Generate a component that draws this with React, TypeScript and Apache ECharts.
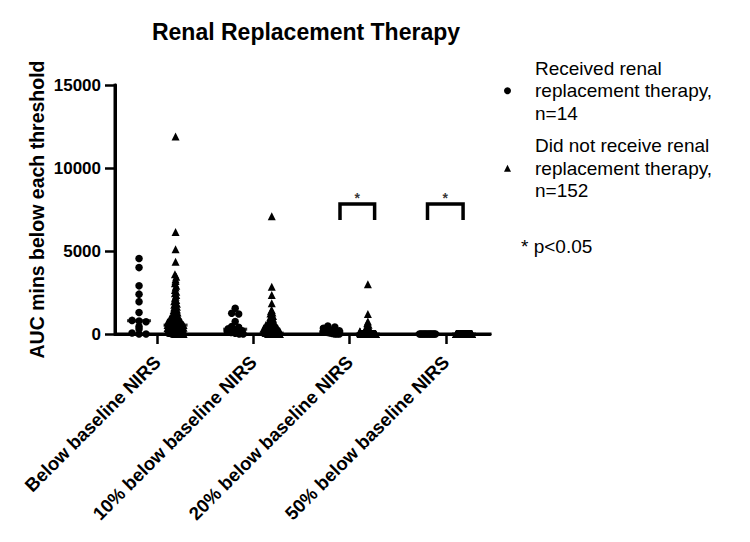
import React, { useEffect, useRef } from "react";
import * as echarts from "echarts";

const FONT = "'Liberation Sans', Arial, Helvetica, sans-serif";

const categories = [
  "Below baseline NIRS",
  "10% below baseline NIRS",
  "20% below baseline NIRS",
  "50% below baseline NIRS",
];
const yTicks = [0, 5000, 10000, 15000];

const seriesNames = [
  "Received renal replacement therapy, n=14",
  "Did not receive renal replacement therapy, n=152",
];
const legendLines = [
  ["Received renal", "replacement therapy,", "n=14"],
  ["Did not receive renal", "replacement therapy,", "n=152"],
];
const significanceNote = "* p<0.05";
const significantCategories = [2, 3];

// ---- Received RRT (n=14) per threshold ----
const rrtBelowBaseline = [4550, 4000, 2900, 2400, 1950, 1300, 820, 780, 740, 450, 300, 60, 0, 0];
const rrt10 = [1550, 1250, 1200, 750, 450, 400, 320, 260, 200, 150, 90, 40, 0, 0];
const rrt20 = [480, 420, 350, 300, 250, 200, 150, 120, 90, 60, 30, 0, 0, 0];
const rrt50 = [0, 0, 0, 0, 0, 0, 0, 0, 0, 0, 0, 0, 0, 0];

// ---- Did not receive RRT (n=152) per threshold ----
const noRrtBelowBaseline = [
  11900, 6150, 5100, 4350, 3600, 3450, 3300, 3200, 3050, 2900,
  2800, 2650, 2550, 2450, 2350, 2250, 2150, 2050, 1980, 1900,
  1820, 1760, 1700, 1640, 1590, 1540, 1480, 1430, 1380, 1330,
  1290, 1250, 1210, 1170, 1130, 1090, 1050, 1020, 990, 960,
  930, 900, 880, 860, 840, 820, 800, 780, 760, 740,
  725, 710, 695, 680, 665, 650, 640, 630, 620, 610,
  600, 595, 590, 585, 580, 575, 570, 565, 560, 555,
  550, 548, 546, 544, 542, 540, 535, 520, 505, 490,
  475, 460, 445, 430, 415, 400, 385, 370, 355, 340,
  325, 310, 300, 290, 280, 270, 260, 250, 240, 230,
  220, 210, 200, 190, 180, 170, 160, 150, 140, 130,
  120, 110, 100, 95, 90, 85, 80, 75, 70, 65,
  60, 55, 50, 45, 40, 35, 30, 25, 20, 15,
  12, 10, 8, 6, 5, 4, 3, 2, 1, 0,
  0, 0, 0, 0, 0, 0, 0, 0, 0, 0, 0, 0,
];
const noRrt10 = [
  7100, 2850, 2350, 1850, 1450, 1380, 1300, 1230, 1160, 1090,
  1030, 970, 920, 870, 830, 790, 750, 710, 680, 650,
  620, 590, 560, 535, 510, 490, 470, 450, 430, 410,
  395, 380, 365, 350, 335, 320, 310, 300, 290, 280,
  270, 260, 250, 240, 232, 224, 216, 208, 200, 192,
  185, 178, 171, 164, 157, 150, 144, 138, 132, 126,
  120, 115, 110, 105, 100, 96, 92, 88, 84, 80,
  76, 72, 68, 64, 60, 57, 54, 51, 48, 45,
  42, 40, 38, 36, 34, 32, 30, 28, 26, 24,
  22, 20, 18, 16, 14, 12, 10, 9, 8, 7,
  6, 5, 4, 3, 2, 1, 0, 0, 0, 0,
  0, 0, 0, 0, 0, 0, 0, 0, 0, 0,
  0, 0, 0, 0, 0, 0, 0, 0, 0, 0,
  0, 0, 0, 0, 0, 0, 0, 0, 0, 0,
  0, 0, 0, 0, 0, 0, 0, 0, 0, 0,
  0, 0,
];
const noRrt20 = [
  3000, 1200, 750, 650, 560, 480, 420, 360, 300, 250,
  200, 170, 140, 110, 90, 70, 55, 40, 30, 20,
  10, 5, 0, 0, 0, 0, 0, 0, 0, 0,
  0, 0, 0, 0, 0, 0, 0, 0, 0, 0,
  0, 0, 0, 0, 0, 0, 0, 0, 0, 0,
  0, 0, 0, 0, 0, 0, 0, 0, 0, 0,
  0, 0, 0, 0, 0, 0, 0, 0, 0, 0,
  0, 0, 0, 0, 0, 0, 0, 0, 0, 0,
  0, 0, 0, 0, 0, 0, 0, 0, 0, 0,
  0, 0, 0, 0, 0, 0, 0, 0, 0, 0,
  0, 0, 0, 0, 0, 0, 0, 0, 0, 0,
  0, 0, 0, 0, 0, 0, 0, 0, 0, 0,
  0, 0, 0, 0, 0, 0, 0, 0, 0, 0,
  0, 0, 0, 0, 0, 0, 0, 0, 0, 0,
  0, 0, 0, 0, 0, 0, 0, 0, 0, 0,
  0, 0,
];
const noRrt50 = [
  0, 0, 0, 0, 0, 0, 0, 0, 0, 0, 0, 0, 0, 0, 0, 0, 0, 0, 0,
  0, 0, 0, 0, 0, 0, 0, 0, 0, 0, 0, 0, 0, 0, 0, 0, 0, 0, 0,
  0, 0, 0, 0, 0, 0, 0, 0, 0, 0, 0, 0, 0, 0, 0, 0, 0, 0, 0,
  0, 0, 0, 0, 0, 0, 0, 0, 0, 0, 0, 0, 0, 0, 0, 0, 0, 0, 0,
  0, 0, 0, 0, 0, 0, 0, 0, 0, 0, 0, 0, 0, 0, 0, 0, 0, 0, 0,
  0, 0, 0, 0, 0, 0, 0, 0, 0, 0, 0, 0, 0, 0, 0, 0, 0, 0, 0,
  0, 0, 0, 0, 0, 0, 0, 0, 0, 0, 0, 0, 0, 0, 0, 0, 0, 0, 0,
  0, 0, 0, 0, 0, 0, 0, 0, 0, 0, 0, 0, 0, 0, 0, 0, 0, 0, 0,
];

const rrtGroups = [rrtBelowBaseline, rrt10, rrt20, rrt50];
const noRrtGroups = [noRrtBelowBaseline, noRrt10, noRrt20, noRrt50];

// ---- layout ----
const GRID = { left: 115, right: 260, top: 85, bottom: 208 };
const X_MIN = -0.44;
const X_MAX = 3.46;
const Y_MAX = 15000;
const PLOT_W = 750 - GRID.left - GRID.right;
const PLOT_H = 542 - GRID.top - GRID.bottom;
const X_PX = PLOT_W / (X_MAX - X_MIN);
const Y_PX = PLOT_H / Y_MAX;
const GROUP_OFFSET = 0.19;

function median(values: number[]) {
  const s = [...values].sort((a, b) => a - b);
  const n = s.length;
  return n % 2 ? s[(n - 1) / 2] : (s[n / 2 - 1] + s[n / 2]) / 2;
}

// simple dot-plot layout: points in the same pixel row are spread sideways
function swarm(values: number[], cx: number, stepPx: number, maxWPx: number) {
  const binPx = 3;
  const bins: Record<string, number[]> = {};
  values.forEach((v) => {
    const b = Math.floor((v * Y_PX) / binPx);
    (bins[b] = bins[b] || []).push(v);
  });
  const out: number[][] = [];
  Object.keys(bins).forEach((k) => {
    const vs = bins[k];
    const n = vs.length;
    const s = n > 1 ? Math.min(stepPx, maxWPx / (n - 1)) : 0;
    vs.forEach((v, i) => {
      const off = (i - (n - 1) / 2) * s;
      out.push([cx + off / X_PX, v]);
    });
  });
  return out;
}

export default function App() {
  const ref = useRef<HTMLDivElement>(null);
  useEffect(() => {
    if (!ref.current) return;
    const chart = echarts.init(ref.current, undefined, { renderer: "svg" });

    const rrtData: number[][] = [];
    const noRrtData: number[][] = [];
    const medianData: number[][] = [];
    categories.forEach((_, i) => {
      rrtData.push(...swarm(rrtGroups[i], i - GROUP_OFFSET, 7, 16));
      noRrtData.push(...swarm(noRrtGroups[i], i + GROUP_OFFSET, 1.3, 16));
      medianData.push([i - GROUP_OFFSET, median(rrtGroups[i])]);
      medianData.push([i + GROUP_OFFSET, median(noRrtGroups[i])]);
    });

    const bracketShift: Record<number, [number, number]> = { 2: [-0.1, 0.26], 3: [-0.19, 0.18] };
    const bracketTop = 7830;
    const bracketLeg = 6870;
    const bracketSeries = significantCategories.map((c) => {
      const [a, b] = bracketShift[c];
      return {
        type: "line",
        silent: true,
        symbol: "none",
        lineStyle: { color: "#000", width: 3.5, join: "miter" },
        data: [
          [c + a, bracketLeg],
          [c + a, bracketTop],
          [c + b, bracketTop],
          [c + b, bracketLeg],
        ],
        z: 3,
      };
    });
    const starData = significantCategories.map((c) => {
      const [a, b] = bracketShift[c];
      return [c + (a + b) / 2, 8200];
    });

    const legendName = (name: string) => {
      const idx = seriesNames.indexOf(name);
      return idx >= 0 ? legendLines[idx].join("\n") : name;
    };

    const axisLineStyle = { color: "#000", width: 3 };

    chart.setOption({
      animation: false,
      backgroundColor: "#fff",
      title: {
        text: "Renal Replacement Therapy",
        left: 301,
        top: 15,
        textAlign: "center",
        textStyle: { fontFamily: FONT, fontSize: 23, fontWeight: "bold", color: "#000" },
      },
      legend: {
        data: [
          { name: seriesNames[0], icon: "circle" },
          { name: seriesNames[1], icon: "triangle" },
        ],
        orient: "vertical",
        left: 499,
        top: 52,
        itemWidth: 7,
        itemHeight: 7,
        itemGap: 10,
        selectedMode: false,
        formatter: legendName,
        textStyle: {
          fontFamily: FONT,
          fontSize: 19,
          lineHeight: 22.5,
          color: "#000",
          padding: [0, 0, 0, 19],
        },
      },
      graphic: [
        {
          type: "text",
          left: 521,
          top: 237,
          style: { text: significanceNote, font: `19px ${FONT}`, fill: "#000" },
        },
      ],
      grid: { ...GRID, containLabel: false },
      xAxis: {
        type: "value",
        min: X_MIN,
        max: X_MAX,
        splitLine: { show: false },
        axisLine: { show: true, onZero: false, lineStyle: axisLineStyle },
        axisTick: {
          show: true,
          customValues: [0, 1, 2, 3],
          length: 10,
          lineStyle: { color: "#000", width: 2.5 },
        },
        axisLabel: {
          customValues: [0, 1, 2, 3],
          formatter: (v: number) => categories[Math.round(v)] ?? "",
          rotate: 45,
          margin: 25,
          fontFamily: FONT,
          fontSize: 18.5,
          fontWeight: "bold",
          color: "#000",
        },
      },
      yAxis: {
        type: "value",
        min: 0,
        max: Y_MAX,
        interval: 5000,
        name: "AUC mins below each threshold",
        nameLocation: "middle",
        nameRotate: 90,
        nameGap: 68,
        nameTextStyle: { fontFamily: FONT, fontSize: 19.5, fontWeight: "bold", color: "#000" },
        splitLine: { show: false },
        axisLine: { show: true, onZero: false, lineStyle: axisLineStyle },
        axisTick: { show: true, length: 10, lineStyle: { color: "#000", width: 2.5 } },
        axisLabel: {
          margin: 14,
          customValues: yTicks,
          formatter: (v: number) => String(v),
          fontFamily: FONT,
          fontSize: 17,
          fontWeight: "bold",
          color: "#000",
        },
      },
      series: [
        {
          name: "axes",
          type: "line",
          silent: true,
          symbol: "none",
          lineStyle: { color: "#000", width: 3, join: "miter", cap: "square" },
          data: [
            [X_MIN, Y_MAX],
            [X_MIN, 0],
            [X_MAX, 0],
          ],
          z: 1,
        },
        {
          name: seriesNames[0],
          type: "scatter",
          symbol: "circle",
          symbolSize: 7.5,
          itemStyle: { color: "#000", opacity: 1 },
          data: rrtData,
          z: 2,
        },
        {
          name: seriesNames[1],
          type: "scatter",
          symbol: "triangle",
          symbolSize: 8,
          itemStyle: { color: "#000", opacity: 1 },
          data: noRrtData,
          z: 2,
        },
        {
          name: "median",
          type: "scatter",
          symbol: "rect",
          symbolSize: [24, 3],
          itemStyle: { color: "#000" },
          silent: true,
          data: medianData,
          z: 3,
        },
        ...bracketSeries,
        {
          name: "significance",
          type: "scatter",
          symbolSize: 1,
          itemStyle: { color: "rgba(0,0,0,0)" },
          silent: true,
          label: {
            show: true,
            position: "inside",
            formatter: "*",
            fontFamily: FONT,
            fontSize: 14,
            fontWeight: "bold",
            color: "#000",
          },
          data: starData,
          z: 4,
        },
      ],
    });
    return () => chart.dispose();
  }, []);
  return (
    <div
      ref={ref}
      style={{ position: "fixed", left: 0, top: 0, width: 750, height: 542, background: "#fff" }}
    />
  );
}
